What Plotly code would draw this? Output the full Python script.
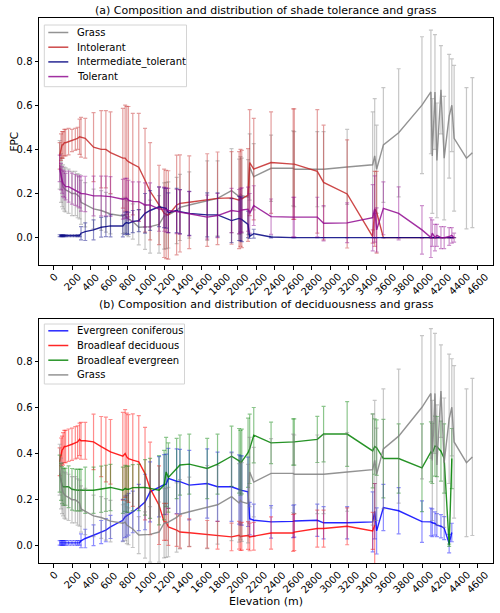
import plotly.graph_objects as go

N = None
elevation = [65, 80, 91, 102, 116, 130, 162, 199, 235, 260, 281, 297, 343, 433, 516, 567, 617,
             751, 776, 794, 812, 859, 924, 992, 1047, 1144, 1199, 1221, 1245, 1335, 1371, 1472,
             1667, 1779, 1931, 2013, 2028, 2042, 2110, 2128, 2172, 2360, 2600, 2612, 2862, 2930,
             3186, 3463, 3485, 3506, 3579, 3745, 3998, 4095, 4110, 4139, 4160, 4204, 4239, 4293,
             4322, 4347, 4481, 4545]

grass = [0.33, 0.27, 0.25, 0.23, 0.22, 0.216, 0.21, 0.20, 0.20, 0.19, 0.185, 0.16, 0.149, 0.13,
         0.123, 0.115, 0.107, 0.098, 0.103, 0.09, 0.085, 0.073, 0.047, 0.047, 0.05, 0.06, 0.098,
         0.10, 0.103, 0.123, 0.137, 0.148, 0.168, 0.178, 0.213, 0.186, 0.197, 0.19, 0.183, 0.32,
         0.276, 0.314, 0.314, 0.31, 0.31, 0.31, 0.32, 0.33, 0.37, 0.31, 0.42, 0.475, 0.60, 0.66,
         0.37, 0.66, 0.35, 0.67, 0.36, 0.55, 0.60, 0.45, 0.36, 0.385]
grass_err = [0.11, 0.11, 0.11, 0.1, 0.1, 0.1, 0.1, 0.1, 0.1, 0.1, 0.1, 0.1, 0.1, 0.09, 0.09,
             0.09, 0.09, 0.08, 0.08, 0.08, 0.08, 0.08, 0.08, 0.1, 0.12, 0.13, 0.15, 0.15, 0.15,
             0.15, 0.15, 0.15, 0.18, 0.17, 0.19, 0.17, 0.17, 0.17, 0.17, 0.15, 0.15, 0.15, 0.17,
             0.17, 0.17, 0.17, 0.17, 0.24, 0.26, 0.2, 0.26, 0.29, 0.31, 0.28, 0.26, 0.26, 0.26,
             0.2, 0.28, 0.28, 0.21, 0.33, 0.32, 0.34]

intolerant = [0.37, 0.41, 0.42, 0.42, 0.43, 0.43, 0.435, 0.44, 0.445, 0.45, 0.457, 0.455, 0.45,
              0.41, 0.40, 0.40, 0.385, 0.36, 0.36, 0.35, 0.344, 0.333, 0.319, 0.26, 0.21, 0.148,
              0.11, 0.105, 0.103, 0.148, 0.155, 0.16, 0.17, 0.178, 0.18, 0.17, 0.18, 0.175, 0.193,
              0.34, 0.31, 0.34, 0.333, 0.333, 0.30, 0.25, 0.198, 0.005, 0.13, 0.115, 0.0, 0.0, 0.0,
              0.0, 0.0, 0.0, 0.0, 0.0, 0.0, 0.0, 0.0, 0.0, N, N]
intolerant_err = [0.06, 0.06, 0.06, 0.06, 0.06, 0.06, 0.06, 0.05, 0.05, 0.05, 0.08, 0.09, 0.09,
                  0.156, 0.175, 0.175, 0.185, 0.226, 0.24, 0.245, 0.25, 0.23, 0.244, 0.235, 0.22,
                  0.18, 0.2, 0.2, 0.2, 0.226, 0.22, 0.21, 0.21, 0.21, 0.21, 0.22, 0.22, 0.22, 0.21,
                  0.24, 0.23, 0.23, 0.25, 0.25, 0.28, 0.26, 0.245, 0.03, 0.17, 0.185, 0.0, 0.0, 0.0,
                  0.0, 0.0, 0.0, 0.0, 0.0, 0.0, 0.0, 0.0, 0.0, N, N]

intermediate = [0.009] * 11 + [0.02, 0.027, 0.035, 0.047, 0.05, 0.053, 0.053, 0.065, 0.068, 0.065,
                               0.073, 0.077, 0.11, 0.123, 0.14, 0.135, 0.133, 0.113, 0.123, 0.118,
                               0.11, 0.103, 0.103, 0.077, 0.087, 0.085, 0.082, 0.06, 0.006, 0.018,
                               0.003] + [0.0] * 20 + [N, N]
intermediate_err = [0.004] * 11 + [0.03, 0.04, 0.045, 0.045, 0.045, 0.05, 0.05, 0.05, 0.05, 0.05,
                                   0.05, 0.05, 0.09, 0.09, 0.09, 0.09, 0.09, 0.09, 0.1, 0.1, 0.1,
                                   0.1, 0.1, 0.1, 0.1, 0.1, 0.1, 0.06, 0.01, 0.02, 0.004] + [0.0] * 20 + [N, N]

tolerant = [0.314, 0.276, 0.261, 0.246, 0.24, 0.231, 0.231, 0.222, 0.216, 0.21, 0.205, 0.2, 0.198,
            0.189, 0.189, 0.189, 0.186, 0.174, 0.178, 0.178, 0.17, 0.163, 0.163, 0.148, 0.148,
            0.129, 0.129, 0.125, 0.123, 0.118, 0.116, 0.108, 0.093, 0.10, 0.123, 0.118, 0.123,
            0.125, 0.129, 0.11, 0.145, 0.095, 0.093, 0.093, 0.093, 0.065, 0.067, 0.09, 0.13, 0.035,
            0.133, 0.11, 0.035, 0.0, 0.02, 0.0, 0.01, 0.0, 0.0, 0.005, 0.01, 0.0, N, N]
tolerant_err = [0.06, 0.06, 0.06, 0.06, 0.06, 0.06, 0.07, 0.07, 0.07, 0.07, 0.07, 0.08, 0.08, 0.09,
                0.09, 0.09, 0.09, 0.09, 0.09, 0.09, 0.09, 0.09, 0.09, 0.1, 0.1, 0.1, 0.1, 0.1, 0.1,
                0.1, 0.1, 0.1, 0.1, 0.1, 0.1, 0.1, 0.1, 0.1, 0.1, 0.09, 0.09, 0.08, 0.09, 0.09, 0.09,
                0.08, 0.09, 0.15, 0.15, 0.1, 0.12, 0.12, 0.11, 0.09, 0.06, 0.06, 0.05, 0.05, 0.05,
                0.04, 0.035, 0.02, N, N]

ever_conif = [0.013] * 11 + [0.022, 0.032, 0.046, 0.06, 0.068, 0.082, 0.111, 0.126, 0.13, 0.137,
                             0.147, 0.166, 0.19, 0.234, 0.256, 0.265, 0.267, 0.292, 0.28, 0.278,
                             0.263, 0.27, 0.256, 0.256, 0.244, 0.24, 0.24, 0.234, 0.118, 0.111,
                             0.104, 0.106, 0.108, 0.111, 0.1, 0.1, 0.104, 0.15, 0.065, 0.166, 0.152,
                             0.105, 0.104, 0.1, 0.097, 0.09, 0.085, 0.077, 0.01, 0.058, N, N, N]
ever_conif_err = [0.01] * 11 + [0.03, 0.04, 0.045, 0.05, 0.05, 0.05, 0.09, 0.09, 0.09, 0.09, 0.09,
                                0.1, 0.12, 0.13, 0.13, 0.13, 0.13, 0.13, 0.14, 0.14, 0.15, 0.15,
                                0.15, 0.15, 0.15, 0.15, 0.15, 0.15, 0.07, 0.07, 0.07, 0.07, 0.07,
                                0.07, 0.07, 0.07, 0.13, 0.12, 0.1, 0.1, 0.1, 0.09, 0.06, 0.06, 0.05,
                                0.05, 0.05, 0.05, 0.04, 0.04, N, N, N]

broad_decid = [0.364, 0.407, 0.415, 0.42, 0.43, 0.43, 0.436, 0.44, 0.446, 0.45, 0.461, 0.455,
               0.455, 0.45, 0.43, 0.417, 0.407, 0.388, 0.40, 0.385, 0.378, 0.371, 0.364, 0.313,
               0.249, 0.176, 0.104, 0.104, 0.082, 0.068, 0.06, 0.057, 0.05, 0.046, 0.039, 0.046,
               0.04, 0.042, 0.045, 0.039, 0.042, 0.056, 0.056, 0.06, 0.075, 0.075, 0.085, 0.065,
               0.09] + [N] * 15
broad_decid_err = [0.06, 0.06, 0.06, 0.07, 0.07, 0.07, 0.07, 0.07, 0.07, 0.07, 0.07, 0.08, 0.08,
                   0.12, 0.13, 0.14, 0.14, 0.19, 0.19, 0.19, 0.19, 0.2, 0.2, 0.2, 0.2, 0.17, 0.08,
                   0.08, 0.08, 0.07, 0.07, 0.06, 0.06, 0.06, 0.06, 0.06, 0.06, 0.06, 0.06, 0.06,
                   0.06, 0.07, 0.08, 0.08, 0.08, 0.08, 0.08, 0.08, 0.18] + [N] * 15

broad_ever = [0.313, 0.277, 0.263, 0.256, 0.256, 0.256, 0.256, 0.245, 0.242, 0.241, 0.242, 0.241,
              0.241, 0.241, 0.245, 0.249, 0.253, 0.241, 0.249, 0.245, 0.245, 0.252, 0.253, 0.253,
              0.249, 0.241, 0.263, 0.32, 0.296, 0.335, 0.35, 0.354, 0.335, 0.354, 0.388, 0.368,
              0.36, 0.365, 0.403, 0.42, 0.479, 0.446, 0.45, 0.45, 0.461, 0.484, 0.484, 0.411, 0.43,
              0.425, 0.378, 0.378, 0.338, 0.407, 0.40, 0.432, 0.43, 0.41, 0.378, 0.003, 0.378,
              N, N, N]
broad_ever_err = [0.08, 0.08, 0.08, 0.08, 0.08, 0.08, 0.09, 0.09, 0.09, 0.09, 0.09, 0.09, 0.1, 0.1,
                  0.1, 0.1, 0.1, 0.1, 0.1, 0.1, 0.1, 0.1, 0.1, 0.12, 0.13, 0.15, 0.15, 0.15, 0.15,
                  0.13, 0.13, 0.13, 0.13, 0.13, 0.13, 0.14, 0.14, 0.14, 0.15, 0.15, 0.12, 0.09, 0.1,
                  0.1, 0.1, 0.12, 0.14, 0.16, 0.12, 0.12, 0.17, 0.15, 0.19, 0.13, 0.13, 0.13, 0.13,
                  0.13, 0.15, 0.005, 0.13, N, N, N]

x_ticks = list(range(0, 4601, 200))
y_ticks = [0.0, 0.2, 0.4, 0.6, 0.8]

panel_a = [("Grass", grass, grass_err, (128, 128, 128)),
           ("Intolerant", intolerant, intolerant_err, (196, 40, 40)),
           ("Intermediate_tolerant", intermediate, intermediate_err, (0, 0, 128)),
           ("Tolerant", tolerant, tolerant_err, (145, 10, 145))]
panel_b = [("Evergreen coniferous", ever_conif, ever_conif_err, (0, 0, 255)),
           ("Broadleaf deciduous", broad_decid, broad_decid_err, (255, 0, 0)),
           ("Broadleaf evergreen", broad_ever, broad_ever_err, (0, 128, 0)),
           ("Grass", grass, grass_err, (128, 128, 128))]

# ---- layout geometry (pixels) ----
W, H = 500, 613
L, R, T, B = 39, 7, 18, 50
PW, PH = W - L - R, H - T - B
A_BOTTOM_PX, B_TOP_PX = 265, 319


def px(xp):
    return (xp - L) / PW


def py(yp):
    return (H - B - yp) / PH


a_dom = [py(A_BOTTOM_PX), 1]
b_dom = [0, py(B_TOP_PX)]

fig = go.Figure()


def add(series, xa, ya):
    for name, vals, errs, c in series:
        xs = [e for e, v in zip(elevation, vals) if v is not None]
        ys = [v for v in vals if v is not None]
        es = [er for v, er in zip(vals, errs) if v is not None]
        fig.add_trace(go.Scatter(
            x=xs, y=ys, mode="lines", name=name, xaxis=xa, yaxis=ya, showlegend=False,
            line=dict(color="rgba(%d,%d,%d,0.85)" % c, width=1.4),
            error_y=dict(type="data", array=es, visible=True,
                         color="rgba(%d,%d,%d,0.45)" % c, thickness=1.2, width=2)))


add(panel_a, "x", "y")
add(panel_b, "x2", "y2")

axis_common = dict(showline=True, linecolor="black", linewidth=1, mirror=True,
                   showgrid=False, zeroline=False, ticks="outside", ticklen=3.5,
                   tickcolor="black", tickfont=dict(family="DejaVu Sans", size=10, color="black"))

shapes = []
annotations = []

# rotated x tick labels centred under the ticks (matplotlib style)
for xa, yd in (("x", "y domain"), ("x2", "y2 domain")):
    for t in x_ticks:
        annotations.append(dict(text=str(t), x=t, xref=xa, y=0, yref=yd, xanchor="center",
                                yanchor="top", yshift=-4, textangle=-45, showarrow=False,
                                font=dict(family="DejaVu Sans", size=10, color="black")))


def legend(series, box, rows):
    x0, y0, x1, y1 = box
    shapes.append(dict(type="rect", xref="paper", yref="paper", x0=px(x0), x1=px(x1),
                       y0=py(y1), y1=py(y0), fillcolor="rgba(255,255,255,0.8)",
                       line=dict(color="#d4d4d4", width=1), layer="above"))
    for (name, _, _, c), ry in zip(series, rows):
        shapes.append(dict(type="line", xref="paper", yref="paper", x0=px(x0 + 4), x1=px(x0 + 24),
                           y0=py(ry), y1=py(ry), line=dict(color="rgba(%d,%d,%d,0.85)" % c, width=1.5),
                           layer="above"))
        annotations.append(dict(text=name, xref="paper", yref="paper", x=px(x0 + 31), y=py(ry),
                                xanchor="left", yanchor="middle", showarrow=False,
                                font=dict(family="DejaVu Sans", size=10, color="black")))


legend(panel_a, (44.3, 25, 186.5, 86.7), [32.5, 47.2, 61.9, 76.6])
legend(panel_b, (44.3, 324, 184.5, 384), [330.8, 345.5, 360.2, 374.9])

annotations.append(dict(text="(a) Composition and distribution of shade tolerance and grass",
                        x=0.5, y=1, xref="paper", yref="paper", yanchor="bottom", yshift=-1.5,
                        showarrow=False, font=dict(family="DejaVu Sans", size=11, color="black")))
annotations.append(dict(text="(b) Composition and distribution of deciduousness and grass",
                        x=0.5, y=b_dom[1], xref="paper", yref="paper", yanchor="bottom", yshift=6,
                        showarrow=False, font=dict(family="DejaVu Sans", size=11, color="black")))
annotations.append(dict(text="FPC", x=px(13), y=(a_dom[0] + a_dom[1]) / 2, xref="paper",
                        yref="paper", xanchor="center", yanchor="middle", textangle=-90,
                        showarrow=False, font=dict(family="DejaVu Sans", size=10.5, color="black")))

fig.update_layout(
    width=W, height=H, plot_bgcolor="white", paper_bgcolor="white",
    margin=dict(l=L, r=R, t=T, b=B), showlegend=False,
    font=dict(family="DejaVu Sans", size=10, color="black"),
    xaxis=dict(domain=[0, 1], anchor="y", range=[-159, 4769], tickvals=x_ticks,
               showticklabels=False, **axis_common),
    yaxis=dict(domain=a_dom, anchor="x", range=[-0.124, 0.995], tickvals=y_ticks, tickformat=".1f",
               **axis_common),
    xaxis2=dict(domain=[0, 1], anchor="y2", range=[-159, 4769], tickvals=x_ticks,
                showticklabels=False,
                title=dict(text="Elevation (m)", font=dict(family="DejaVu Sans", size=11, color="black"),
                           standoff=30),
                **axis_common),
    yaxis2=dict(domain=b_dom, anchor="x2", range=[-0.074, 0.982], tickvals=y_ticks,
                tickformat=".1f", **axis_common),
    shapes=shapes, annotations=annotations,
)

fig.write_html("out.html")
